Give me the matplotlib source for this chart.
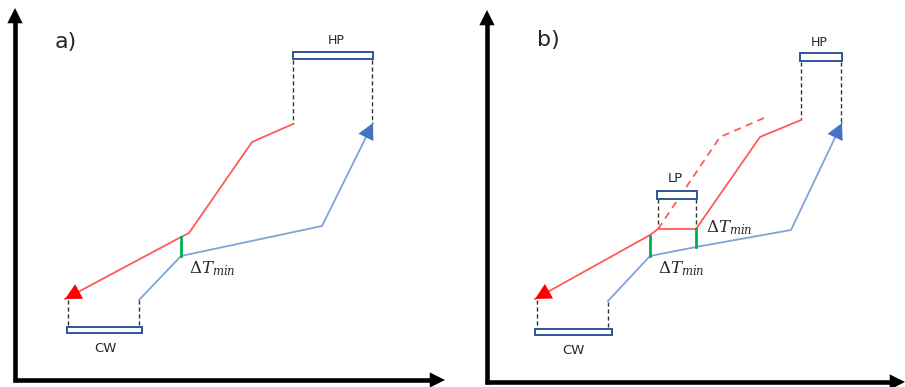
import matplotlib.pyplot as plt

plt.rcParams['mathtext.fontset'] = 'dejavuserif'

# panel a) -- coordinates read off the schematic (pixels, y down)
a_hot_x = [293, 252, 189, 181, 65]
a_hot_y = [124, 142, 233, 237, 299]
a_cold_x = [139, 181, 322, 373]
a_cold_y = [300, 256, 226, 123]
a_dtmin_x = [181, 181]
a_dtmin_y = [237, 256]
a_hp_box = (293, 52, 80, 7)
a_cw_box = (67, 327, 75, 6)
a_dash_x = [293, 372, 68, 139]
a_dash_y0 = [60, 60, 300, 300]
a_dash_y1 = [124, 122, 327, 327]

# panel b)
b_hot_x = [801, 760, 696, 658, 650, 535]
b_hot_y = [120, 137, 229, 229, 235, 299]
b_hot_old_x = [658, 720, 764]
b_hot_old_y = [229, 137, 118]
b_cold_x = [608, 650, 696, 791, 842]
b_cold_y = [301, 256, 247, 230, 123]
b_dtmin_x = [[650, 650], [696, 696]]
b_dtmin_y = [[236, 256], [229, 247]]
b_hp_box = (800, 53, 42, 8)
b_lp_box = (657, 191, 40, 8)
b_cw_box = (535, 329, 77, 6)
b_dash_x = [801, 841, 658, 696, 537, 608]
b_dash_y0 = [62, 62, 199, 199, 300, 302]
b_dash_y1 = [120, 124, 229, 229, 329, 329]

RED = '#FF5A5A'
BLUE = '#7FA3D9'
GREEN = '#00B050'
BOXC = '#2F5597'
TXT = '#262626'

fig = plt.figure(figsize=(9.05, 3.87), dpi=100)
ax = fig.add_axes([0, 0, 1, 1])
ax.set_xlim(0, 905)
ax.set_ylim(387, 0)
ax.axis('off')


def axes_arrows(x0, yb, ytop, xright):
    ax.plot([x0, x0], [yb + 2, ytop + 12], color='black', lw=3.3, solid_capstyle='butt')
    ax.plot([x0 - 2, xright - 12], [yb, yb], color='black', lw=3.3, solid_capstyle='butt')
    ax.annotate('', xy=(x0, ytop), xytext=(x0, ytop + 16),
                arrowprops=dict(arrowstyle='-|>,head_length=1.1,head_width=0.55',
                                color='black', lw=0, shrinkA=0, shrinkB=0))
    ax.annotate('', xy=(xright, yb), xytext=(xright - 16, yb),
                arrowprops=dict(arrowstyle='-|>,head_length=1.1,head_width=0.55',
                                color='black', lw=0, shrinkA=0, shrinkB=0))


def box(b):
    ax.add_patch(plt.Rectangle((b[0], b[1]), b[2], b[3], facecolor='white',
                               edgecolor=BOXC, lw=1.4, zorder=4))


def arrow_end(xs, ys, color, headcol):
    ax.plot(xs, ys, color=color, lw=1.3)
    ax.annotate('', xy=(xs[-1], ys[-1]), xytext=(xs[-2], ys[-2]),
                arrowprops=dict(arrowstyle='-|>,head_length=1.15,head_width=0.6',
                                color=headcol, lw=0, shrinkA=0, shrinkB=0), zorder=5)


def dashes(xs, y0s, y1s):
    for x, y0, y1 in zip(xs, y0s, y1s):
        ax.plot([x, x], [y0, y1], color='#333333', lw=1, ls=(0, (3, 2)))


# panel a
axes_arrows(15, 380, 8, 445)
ax.text(55, 42, 'a)', fontsize=16, va='center', ha='left', color=TXT)
dashes(a_dash_x, a_dash_y0, a_dash_y1)
arrow_end(a_hot_x, a_hot_y, RED, '#FF0000')
arrow_end(a_cold_x, a_cold_y, BLUE, '#4472C4')
ax.plot(a_dtmin_x, a_dtmin_y, color=GREEN, lw=2)
box(a_hp_box)
box(a_cw_box)
ax.text(336, 40, 'HP', fontsize=9, ha='center', va='center', color=TXT)
ax.text(105, 348, 'CW', fontsize=9.5, ha='center', va='center', color=TXT)
ax.text(189, 269, r'$\Delta T_{min}$', fontsize=12, ha='left', va='center', color=TXT)

# panel b
axes_arrows(487, 382, 10, 905)
ax.text(537, 40, 'b)', fontsize=16, va='center', ha='left', color=TXT)
dashes(b_dash_x, b_dash_y0, b_dash_y1)
ax.plot(b_hot_old_x, b_hot_old_y, color=RED, lw=1.3, ls=(0, (4, 3)))
arrow_end(b_hot_x, b_hot_y, RED, '#FF0000')
arrow_end(b_cold_x, b_cold_y, BLUE, '#4472C4')
for xs, ys in zip(b_dtmin_x, b_dtmin_y):
    ax.plot(xs, ys, color=GREEN, lw=2)
box(b_hp_box)
box(b_lp_box)
box(b_cw_box)
ax.text(819, 43, 'HP', fontsize=9, ha='center', va='center', color=TXT)
ax.text(675, 178, 'LP', fontsize=9.5, ha='center', va='center', color=TXT)
ax.text(573, 350, 'CW', fontsize=9.5, ha='center', va='center', color=TXT)
ax.text(706, 228, r'$\Delta T_{min}$', fontsize=12, ha='left', va='center', color=TXT)
ax.text(658, 269, r'$\Delta T_{min}$', fontsize=12, ha='left', va='center', color=TXT)

fig.savefig('out.png', dpi=100)
